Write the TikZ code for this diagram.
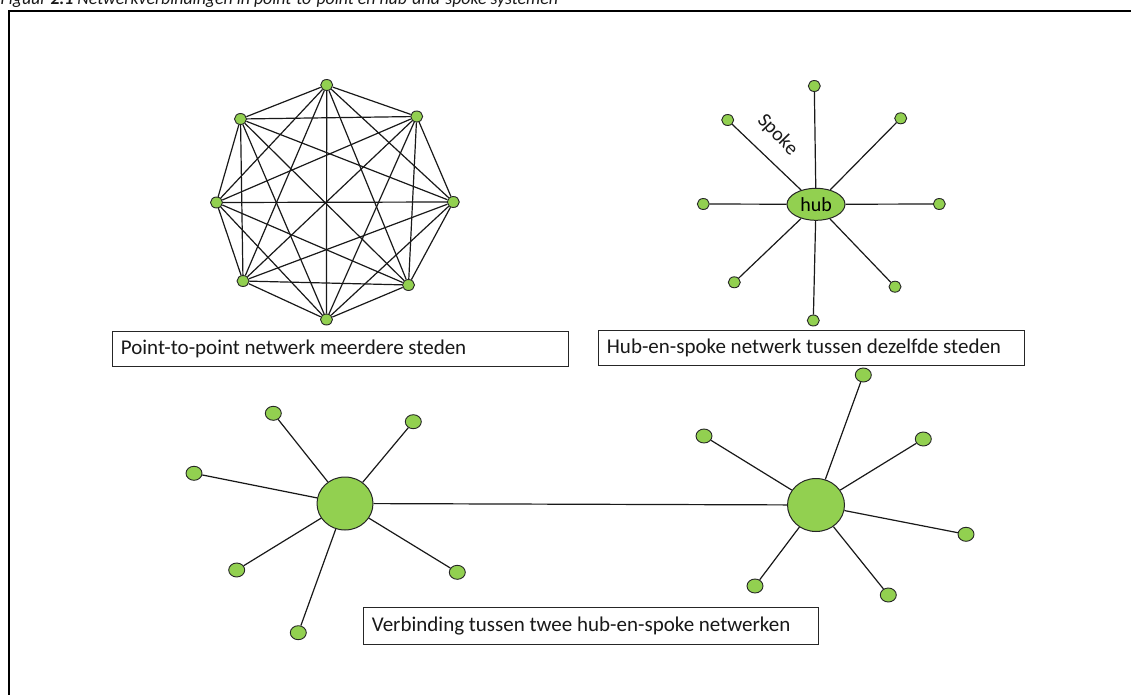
\documentclass[tikz,border=0pt]{standalone}
\usepackage{fontspec}
\setmainfont{Carlito}
\usetikzlibrary{shapes.geometric}
\definecolor{nodegreen}{RGB}{146,208,80}
\begin{document}
\begin{tikzpicture}[x=1pt,y=-1pt,
  city/.style={ellipse, draw=black!85, line width=0.9pt, fill=nodegreen, inner sep=0pt, minimum width=12pt, minimum height=11pt},
  bigcity/.style={city, minimum width=16pt, minimum height=14pt},
  hubnode/.style={ellipse, draw=black!85, line width=1pt, fill=nodegreen, inner sep=0pt, font=\fontsize{20}{24}\selectfont},
  link/.style={line width=1.2pt, draw=black!90},
  labelbox/.style={draw=black!85, line width=1pt, inner sep=0pt, anchor=north west},
  labeltext/.style={anchor=base west, inner sep=0pt, font=\fontsize{21}{25}\selectfont, text=black!90}]
\useasboundingbox (0,0) rectangle (1131,695);
\fill[white] (0,0) rectangle (1131,695);

% title (cut at top) and frame
\node[anchor=base west, inner sep=0pt, font=\fontsize{17.8}{21}\selectfont\itshape, text=black!90] (title) at (0.5,5)
  {Figuur \textbf{2.1} Netwerkverbindingen in point-to-point en hub-and-spoke systemen};
\draw[line width=2pt] (8.5,11) rectangle (1150,720);

% point-to-point network
\node[city] (o1) at (326.7,85) {};
\node[city] (o2) at (416.7,116.5) {};
\node[city] (o3) at (453.3,202) {};
\node[city] (o4) at (408.5,285) {};
\node[city] (o5) at (326.5,319.5) {};
\node[city] (o6) at (243,281) {};
\node[city] (o7) at (216.5,202.5) {};
\node[city] (o8) at (240.5,119) {};
\foreach \i in {1,...,7}{
  \pgfmathtruncatemacro\nxt{\i+1}
  \foreach \j in {\nxt,...,8}{
    \draw[link] (o\i) -- (o\j);
  }
}

% hub-and-spoke network
\node[hubnode, minimum width=58pt, minimum height=32pt] (hubA) at (816,204.3) {hub};
\node[city] (s1) at (814.3,86) {};
\node[city] (s2) at (900.7,118.3) {};
\node[city] (s3) at (939.3,204) {};
\node[city] (s4) at (895,286.7) {};
\node[city] (s5) at (813.3,320.5) {};
\node[city] (s6) at (734.3,282.3) {};
\node[city] (s7) at (703.3,204) {};
\node[city] (s8) at (727.7,120) {};
\foreach \k in {1,...,8}{
  \draw[link] (hubA) -- (s\k);
}
\node[rotate=-46, inner sep=0pt, font=\fontsize{20}{24}\selectfont, text=black!90] (spokelbl) at (777.5,135) {Spoke};

% two connected hub-and-spoke networks
\node[hubnode, minimum width=56pt, minimum height=53pt] (hubL) at (345,503.5) {};
\node[bigcity] (l1) at (273.3,413.3) {};
\node[bigcity] (l2) at (413.3,421.7) {};
\node[bigcity] (l3) at (194,473.3) {};
\node[bigcity] (l4) at (236.7,570) {};
\node[bigcity] (l5) at (457.3,572.3) {};
\node[bigcity] (l6) at (298.3,632.7) {};
\foreach \k in {1,...,6}{
  \draw[link] (hubL) -- (l\k);
}
\node[hubnode, minimum width=57pt, minimum height=53pt] (hubR) at (816,505) {};
\node[bigcity] (r1) at (863.3,375) {};
\node[bigcity] (r2) at (704,436) {};
\node[bigcity] (r3) at (923.3,439) {};
\node[bigcity] (r4) at (966,534.3) {};
\node[bigcity] (r5) at (755,586) {};
\node[bigcity] (r6) at (888.3,595) {};
\foreach \k in {1,...,6}{
  \draw[link] (hubR) -- (r\k);
}
\draw[link] (hubL) -- (hubR);

% label boxes
\node[labelbox, minimum width=456.5pt, minimum height=35pt] (box1) at (111.5,331) {};
\node[labeltext] (txt1) at (120.7,354.3) {Point-to-point netwerk meerdere steden};
\node[labelbox, minimum width=426pt, minimum height=35pt] (box2) at (597.5,329.5) {};
\node[labeltext] (txt2) at (606.7,353.3) {Hub-en-spoke netwerk tussen dezelfde steden};
\node[labelbox, minimum width=455pt, minimum height=36.5pt] (box3) at (363,607) {};
\node[labeltext] (txt3) at (371.7,631.5) {Verbinding tussen twee hub-en-spoke netwerken};
\end{tikzpicture}
\end{document}
